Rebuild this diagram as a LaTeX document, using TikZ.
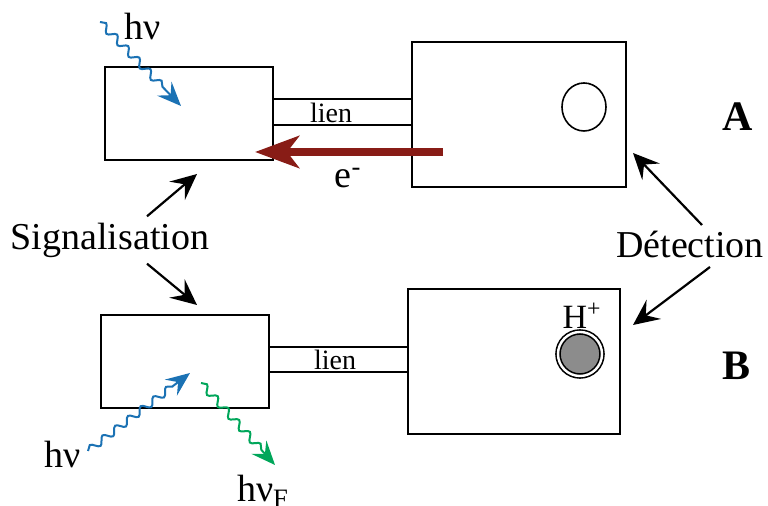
\documentclass[tikz,border=0pt]{standalone}
\usepackage{fontspec}
\setmainfont{Liberation Serif}
\usepackage{xcolor}
\usetikzlibrary{arrows.meta, positioning, calc, decorations.pathmorphing}
\definecolor{photon-blue}{RGB}{27, 114, 180}
\definecolor{photon-green}{RGB}{0, 166, 90}
\definecolor{elec-red}{RGB}{136, 28, 22}

\begin{document}
\begin{tikzpicture}[x=0.5pt, y=-0.5pt,
        cell/.style={rectangle, draw, line width=1pt, outer sep=0pt,
                     minimum width=84pt, minimum height=46.5pt},
        sensor/.style={rectangle, draw, line width=1pt, outer sep=0pt,
                       minimum height=72.5pt},
        lbl/.style={font=\fontsize{19}{22}\selectfont, inner sep=0pt},
        arr/.style={-{Stealth[length=13pt, width=12pt, inset=5pt]}, line width=1.1pt},
        photon/.style={line width=1pt,
                       -{Stealth[length=12pt, width=10pt, inset=4.5pt]},
                       decorate, decoration={snake, segment length=8pt,
                       amplitude=1.8pt, post length=10pt}}
      ]
        \useasboundingbox (0,0) rectangle (768,506);

        % system A
        \node[cell] (cellA) at (189,113.5) {};
        \node[sensor, minimum width=107pt] (senA) at (519,114.5) {};
        \draw[line width=0.8pt] (cellA.east |- 0,99) -- (senA.west |- 0,99);
        \draw[line width=0.8pt] (cellA.east |- 0,125) -- (senA.west |- 0,125);
        \node[font=\fontsize{14}{16}\selectfont, inner sep=0pt] (lienA) at (331,113) {lien};
        \draw[line width=0.8pt] (584,107) ellipse (11pt and 12pt);
        \node[font=\fontsize{21}{24}\selectfont\bfseries, inner sep=0pt] (labA) at (738,117) {A};
        \coordinate (eStart) at (443,152);
        \coordinate (eEnd) at (255,152);
        \draw[elec-red, line width=4pt,
              -{Stealth[length=22pt, width=16pt, inset=6pt]}] (eStart) -- (eEnd);
        \node[lbl] (elec) at (348,178) {e\textsuperscript{-}};
        \node[lbl] (hvA) at (143,27) {hν};
        \coordinate (pA0) at (100,22);
        \coordinate (pA1) at (181,106);
        \draw[photon, photon-blue] (pA0) -- (pA1);

        % system B
        \node[cell] (cellB) at (185,361.5) {};
        \node[sensor, minimum width=106pt] (senB) at (514,361.5) {};
        \draw[line width=0.8pt] (cellB.east |- 0,347) -- (senB.west |- 0,347);
        \draw[line width=0.8pt] (cellB.east |- 0,372) -- (senB.west |- 0,372);
        \node[font=\fontsize{14}{16}\selectfont, inner sep=0pt] (lienB) at (335,360) {lien};
        \node[circle, draw, line width=0.8pt, minimum size=22pt, inner sep=0pt,
              double=white, double distance=1.2pt, fill=black!45] (ion) at (580,354) {};
        \node[font=\fontsize{17}{20}\selectfont, inner sep=0pt] (hplus) at (582,316) {H\textsuperscript{+}};
        \node[font=\fontsize{21}{24}\selectfont\bfseries, inner sep=0pt] (labB) at (737,366) {B};
        \node[lbl] (hvB) at (63,455) {hν};
        \node[lbl, anchor=north] (hvF) at (263,475) {hν\textsubscript{F}};
        \coordinate (pB0) at (88,451);
        \coordinate (pB1) at (190,373);
        \coordinate (pF0) at (201,383);
        \coordinate (pF1) at (275,465);
        \draw[photon, photon-blue] (pB0) -- (pB1);
        \draw[photon, photon-green] (pF0) -- (pF1);

        % signalisation / detection
        \node[lbl] (sig) at (110,240) {Signalisation};
        \coordinate (sigA) at (197,174);
        \coordinate (sigB) at (197,305);
        \draw[arr] (sig.north) ++(37,-6) coordinate (s1) -- (sigA);
        \draw[arr] (sig.south) ++(37,6) coordinate (s2) -- (sigB);
        \node[lbl] (det) at (690,244) {Détection};
        \coordinate (detA) at (633,153);
        \coordinate (detB) at (633,325);
        \coordinate (d1) at (702,225);
        \coordinate (d2) at (710,267);
        \draw[arr] (d1) -- (detA);
        \draw[arr] (d2) -- (detB);
      \end{tikzpicture}
\end{document}
